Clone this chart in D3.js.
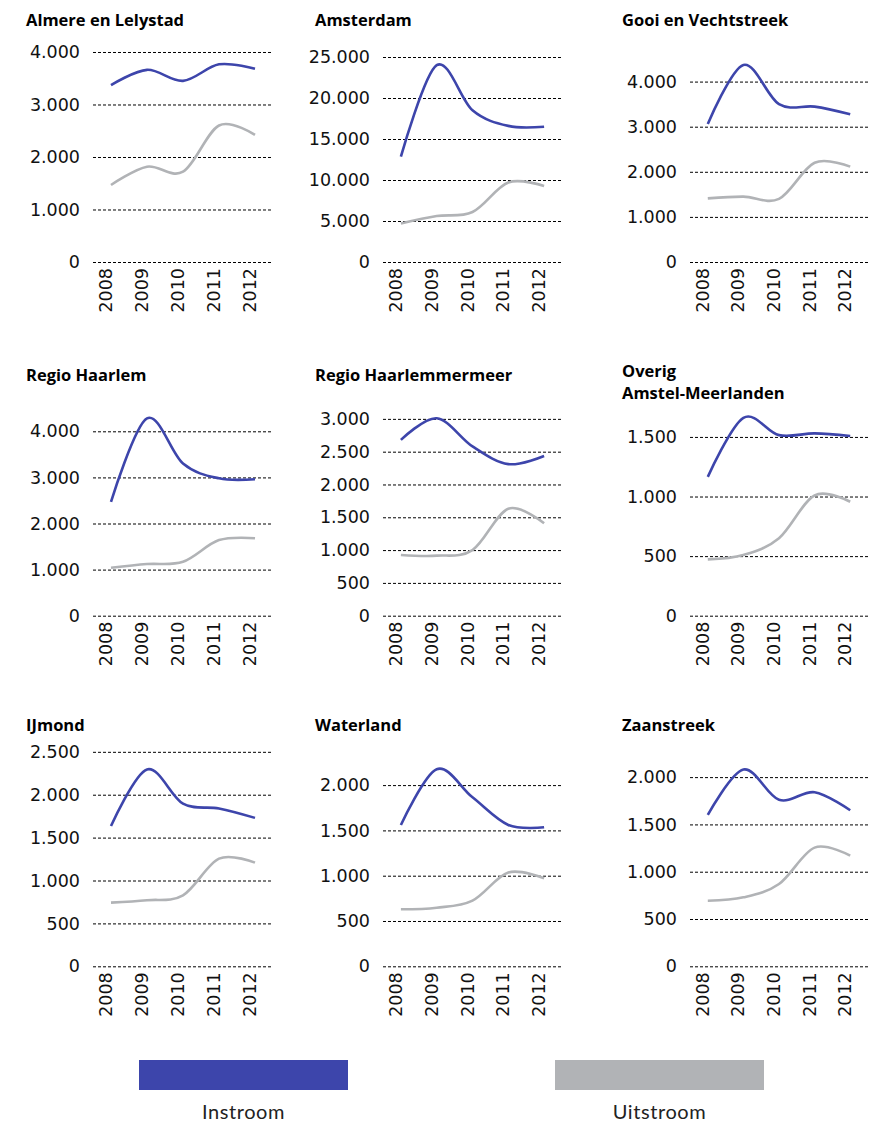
<!DOCTYPE html>
<html>
<head>
<meta charset="utf-8">
<script src="https://cdn.jsdelivr.net/npm/d3@7"></script>
<style>
	body { margin: 0; background: #fff; }
	svg { display: block; }
</style>
</head>
<body>
<svg id="chart" width="883" height="1122"></svg>
<script>
// -------------- DATA --------------
const years = [2008, 2009, 2010, 2011, 2012];

const regions = [
	["Almere en Lelystad"],
	["Amsterdam"],
	["Gooi en Vechtstreek"],
	["Regio Haarlem"],
	["Regio Haarlemmermeer"],
	["Overig", "Amstel-Meerlanden"],
	["IJmond"],
	["Waterland"],
	["Zaanstreek"]
];

const instroom = [
	[3370, 3660, 3450, 3765, 3680],
	[12840, 24000, 18500, 16600, 16500],
	[3060, 4370, 3500, 3445, 3275],
	[2470, 4280, 3300, 2980, 2960],
	[2680, 3010, 2580, 2310, 2435],
	[1165, 1660, 1515, 1530, 1508],
	[1635, 2295, 1895, 1840, 1730],
	[1560, 2175, 1865, 1560, 1535],
	[1600, 2080, 1760, 1840, 1650]
];

const uitstroom = [
	[1467, 1815, 1720, 2600, 2420],
	[4700, 5600, 6100, 9700, 9270],
	[1410, 1450, 1400, 2200, 2115],
	[1040, 1120, 1170, 1640, 1680],
	[925, 915, 1000, 1630, 1410],
	[473, 510, 650, 1010, 956],
	[742, 770, 828, 1255, 1208],
	[629, 647, 725, 1035, 971],
	[693, 729, 870, 1255, 1169]
];

// axis maximum and major unit per panel
const yMax = [4095, 26220, 4767, 4664, 3277, 1804, 2506, 2373, 2273];
const tickStep = [1000, 5000, 1000, 1000, 500, 500, 500, 500, 500];

const legendLabels = ["Instroom", "Uitstroom"];

// -------------- SETUP --------------
const colors = ["#3d45ab", "#b1b3b6"];
const colX = [93, 383, 690];
const colW = [180, 179, 178];
const rowZero = [262, 615.7, 966.3];
const plotH = 215;
const titleX = [26, 315, 622];
const titleY = [26, 381, 731];

const svg = d3.select("#chart");

const nl = d3.formatLocale({
	decimal: ",",
	thousands: ".",
	grouping: [3],
	currency: ["€ ", ""]
});
const fmt = nl.format(",");

const line = d3.line().curve(d3.curveCardinal.tension(0));

regions.forEach((title, i) => {
	let col = i % 3;
	let row = Math.floor(i / 3);
	let x0 = colX[col];
	let x1 = x0 + colW[col];
	let zero = rowZero[row];

	let xScale = d3.scalePoint().domain(years).range([x0, x1]).padding(0.5);
	let yScale = d3.scaleLinear().domain([0, yMax[i]]).range([zero, zero - plotH]);

	let g = svg.append("g").attr("class", `panel-${i}`);

	// title (two-line titles start a bit higher)
	let t = g
		.append("text")
		.attr("x", titleX[col])
		.attr("y", title.length > 1 ? titleY[row] - 4 : titleY[row])
		.style("font-family", "'Open Sans', sans-serif")
		.style("font-weight", "bold")
		.style("font-size", "16.5px")
		.attr("fill", "#000");
	title.forEach((s, k) => {
		t.append("tspan")
			.attr("x", titleX[col])
			.attr("dy", k === 0 ? 0 : 22)
			.text(s);
	});

	// y axis with dashed gridlines
	let ticks = d3.range(0, yMax[i] + 1, tickStep[i]);
	let yAxis = d3
		.axisLeft(yScale)
		.tickValues(ticks)
		.tickSize(-(x1 - x0))
		.tickPadding(13)
		.tickFormat(fmt);

	let ax = g
		.append("g")
		.attr("transform", `translate(${x0}, 0)`)
		.call(yAxis);
	ax.select(".domain").remove();
	ax.selectAll(".tick line")
		.attr("stroke", "#000")
		.attr("stroke-width", 1)
		.attr("stroke-dasharray", "3,2");
	ax.selectAll(".tick text")
		.style("font-family", "'DejaVu Sans', sans-serif")
		.style("font-size", "17.5px")
		.attr("fill", "#111");

	// x labels, rotated
	g.append("g")
		.selectAll("text")
		.data(years)
		.join("text")
		.attr("transform", (d) => `translate(${xScale(d) + 1}, ${zero + 6}) rotate(-90)`)
		.attr("text-anchor", "end")
		.style("font-family", "'DejaVu Sans', sans-serif")
		.style("font-size", "17.5px")
		.attr("fill", "#111")
		.text((d) => d);

	// lines
	[uitstroom[i], instroom[i]].forEach((vals, k) => {
		let pts = years.map((yr, j) => [xScale(yr), yScale(vals[j])]);
		g.append("path")
			.attr("d", line(pts))
			.attr("fill", "none")
			.attr("stroke", k === 0 ? colors[1] : colors[0])
			.attr("stroke-width", 2.6)
			.attr("stroke-linecap", "butt");
	});
});

// -------------- LEGEND --------------
const legendX = [139, 555];
legendLabels.forEach((lab, k) => {
	svg.append("rect")
		.attr("x", legendX[k])
		.attr("y", 1060)
		.attr("width", 209)
		.attr("height", 30)
		.attr("fill", colors[k]);
	svg.append("text")
		.attr("x", legendX[k] + 104.5)
		.attr("y", 1119)
		.attr("text-anchor", "middle")
		.style("font-family", "Lato, sans-serif")
		.style("font-size", "20px")
		.style("letter-spacing", "0.6px")
		.attr("fill", "#222")
		.text(lab);
});
</script>
</body>
</html>
